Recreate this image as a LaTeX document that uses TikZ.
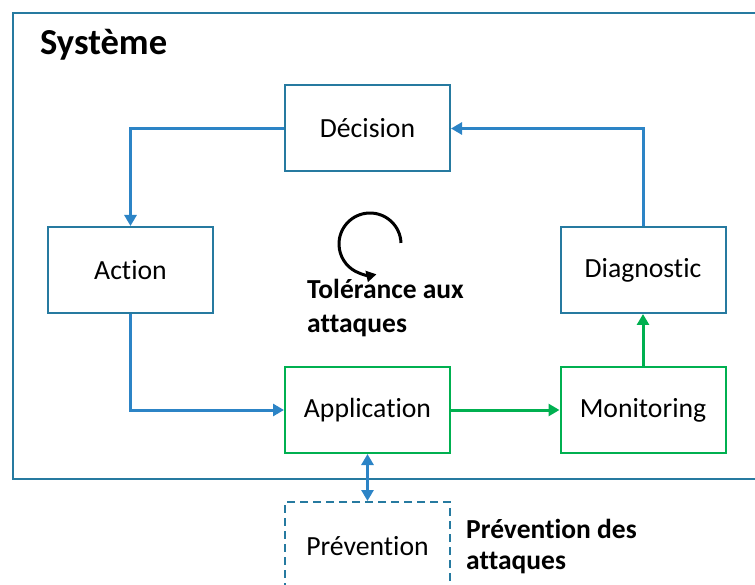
\documentclass[tikz,border=0pt]{standalone}
\usepackage{fontspec}
\setmainfont{Carlito}[Ligatures=NoCommon]
\usetikzlibrary{arrows.meta}
\definecolor{frameblue}{RGB}{38,122,160}
\definecolor{arrowblue}{RGB}{44,132,198}
\definecolor{okgreen}{RGB}{0,176,80}
\begin{document}
\begin{tikzpicture}[x=1pt,y=-1pt,
  box/.style={draw=frameblue,line width=2pt,minimum width=165pt,minimum height=86pt,
    inner sep=0pt,font=\fontsize{27.7}{33}\selectfont},
  gbox/.style={box,draw=okgreen},
  flow/.style={draw=arrowblue,line width=3pt,-{Triangle[length=11pt,width=12pt]}},
  gflow/.style={flow,draw=okgreen,fill=okgreen},
  caption/.style={font=\fontsize{27.5}{33}\selectfont\bfseries,align=left,inner sep=0pt,anchor=base west}]
  \useasboundingbox (0,0) rectangle (755,585);
  % system frame (runs past the right edge)
  \draw[frameblue,line width=2pt] (13,13) rectangle (770,479);
  \node[anchor=base west,inner sep=0pt,font=\fontsize{36.6}{40}\selectfont\bfseries] (sys) at (40,55) {Système};

  % blocks
  \node[box]  (dec)  at (367.5,128.5) {Décision};
  \node[box]  (act)  at (130.5,270)   {Action};
  \node[box]  (diag) at (643,270)     {Diagnostic};
  \node[gbox] (app)  at (367.5,410)   {Application};
  \node[gbox] (mon)  at (643,410)     {Monitoring};
  \node[box,dashed,dash pattern=on 8pt off 5pt,minimum height=96pt] (prev) at (367.5,550) {};
  \node[font=\fontsize{27.7}{33}\selectfont,inner sep=0pt,anchor=base] (prevtxt) at (367.5,555) {Prévention};

  % control loop
  \draw[flow] (dec.west) -| (act.north);
  \draw[flow] (diag.north) |- (dec.east);
  \draw[flow] (act.south) |- (app.west);
  \draw[gflow] (app.east) -- (mon.west);
  \draw[gflow] (mon.north) -- (diag.south);
  \draw[draw=arrowblue,line width=3pt,{Triangle[length=11pt,width=12pt]}-{Triangle[length=11pt,width=12pt]}]
    (app.south) -- (prev.north);

  % loop symbol
  \coordinate (loop) at (370,244);
  \draw[line width=3pt,-{Triangle[length=10pt,width=11pt]}]
    ([shift={(2:31pt)}]loop) arc[start angle=2,end angle=282,radius=31pt];

  \node[caption] (tol) at (307,332) {Tolérance aux\\attaques};
  \node[caption,font=\fontsize{27.5}{31}\selectfont\bfseries] (prevcap) at (466,569) {Prévention des\\attaques};
\end{tikzpicture}
\end{document}
